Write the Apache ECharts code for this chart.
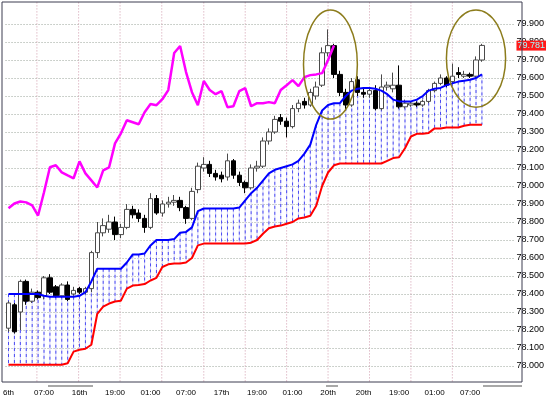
<!DOCTYPE html>
<html>
<head>
<meta charset="utf-8">
<script src="https://cdn.jsdelivr.net/npm/echarts@6/dist/echarts.min.js"></script>
<style>
  html, body { margin: 0; padding: 0; background: #fff; }
  #main { width: 547px; height: 399px; }
</style>
</head>
<body>
<div id="main"></div>
<script>
// x axis labels, one every 6 bars
var tickLabels = ['6th', '07:00', '16th', '19:00', '01:00', '07:00', '17th', '19:00', '01:00', '20th', '20th', '19:00', '01:00', '07:00'];
var barCount = 86;

// candles: [open, close, low, high]
var candles = [
  [78.21, 78.35, 78.19, 78.36], [78.34, 78.19, 78.18, 78.35], [78.30, 78.47, 78.20, 78.48], [78.47, 78.36, 78.34, 78.48],
  [78.36, 78.41, 78.35, 78.43], [78.41, 78.38, 78.37, 78.42], [78.39, 78.49, 78.37, 78.50], [78.49, 78.41, 78.40, 78.51],
  [78.44, 78.39, 78.38, 78.45], [78.39, 78.45, 78.38, 78.46], [78.45, 78.37, 78.36, 78.47], [78.40, 78.42, 78.39, 78.44],
  [78.43, 78.41, 78.40, 78.44], [78.41, 78.43, 78.40, 78.44], [78.43, 78.63, 78.41, 78.64], [78.63, 78.74, 78.60, 78.80],
  [78.74, 78.78, 78.72, 78.82], [78.76, 78.80, 78.74, 78.84], [78.80, 78.73, 78.70, 78.83], [78.73, 78.77, 78.71, 78.79],
  [78.77, 78.87, 78.76, 78.90], [78.87, 78.84, 78.82, 78.89], [78.85, 78.82, 78.80, 78.87], [78.82, 78.77, 78.74, 78.84],
  [78.77, 78.93, 78.76, 78.96], [78.93, 78.85, 78.84, 78.95], [78.85, 78.90, 78.83, 78.92], [78.90, 78.91, 78.88, 78.94],
  [78.91, 78.92, 78.89, 78.95], [78.92, 78.88, 78.86, 78.94], [78.88, 78.82, 78.79, 78.89], [78.82, 78.97, 78.81, 78.99],
  [78.98, 79.11, 78.96, 79.13], [79.10, 79.12, 79.08, 79.16], [79.12, 79.07, 79.05, 79.14], [79.07, 79.05, 79.03, 79.09],
  [79.06, 79.04, 79.02, 79.08], [79.05, 79.14, 79.03, 79.18], [79.14, 79.06, 79.04, 79.15], [79.06, 79.02, 79.00, 79.08],
  [79.02, 78.99, 78.96, 79.03], [78.99, 79.10, 78.98, 79.12], [79.10, 79.11, 79.08, 79.14], [79.11, 79.25, 79.10, 79.27],
  [79.25, 79.30, 79.23, 79.32], [79.30, 79.37, 79.29, 79.39], [79.38, 79.36, 79.34, 79.40], [79.36, 79.33, 79.27, 79.38],
  [79.33, 79.43, 79.32, 79.45], [79.43, 79.46, 79.41, 79.48], [79.47, 79.45, 79.43, 79.49], [79.45, 79.52, 79.44, 79.54],
  [79.50, 79.55, 79.48, 79.58], [79.56, 79.74, 79.55, 79.77], [79.74, 79.78, 79.72, 79.87], [79.78, 79.62, 79.60, 79.79],
  [79.62, 79.52, 79.50, 79.64], [79.52, 79.45, 79.42, 79.54], [79.45, 79.58, 79.44, 79.60], [79.59, 79.52, 79.50, 79.61],
  [79.52, 79.51, 79.49, 79.54], [79.51, 79.53, 79.49, 79.55], [79.53, 79.43, 79.42, 79.56], [79.43, 79.55, 79.42, 79.62],
  [79.55, 79.56, 79.53, 79.58], [79.54, 79.56, 79.52, 79.63], [79.56, 79.44, 79.43, 79.67], [79.44, 79.46, 79.43, 79.48],
  [79.45, 79.46, 79.44, 79.47], [79.46, 79.45, 79.44, 79.47], [79.45, 79.47, 79.44, 79.48], [79.47, 79.53, 79.46, 79.54],
  [79.53, 79.57, 79.52, 79.58], [79.57, 79.60, 79.56, 79.62], [79.60, 79.56, 79.55, 79.61], [79.58, 79.61, 79.57, 79.68],
  [79.63, 79.62, 79.60, 79.66], [79.61, 79.62, 79.60, 79.64], [79.62, 79.61, 79.60, 79.63], [79.61, 79.70, 79.60, 79.72],
  [79.70, 79.781, 79.69, 79.79]
];

// blue line
var blueLine = [
  78.40, 78.40, 78.40, 78.40, 78.40, 78.40, 78.39, 78.385, 78.385, 78.385,
  78.385, 78.385, 78.39, 78.41, 78.47, 78.54, 78.54, 78.54, 78.54, 78.54,
  78.575, 78.62, 78.62, 78.625, 78.67, 78.70, 78.70, 78.70, 78.705, 78.74,
  78.745, 78.77, 78.86, 78.875, 78.875, 78.875, 78.875, 78.875, 78.875, 78.88,
  78.92, 78.96, 78.99, 79.03, 79.07, 79.09, 79.10, 79.11, 79.12, 79.14,
  79.18, 79.23, 79.34, 79.42, 79.45, 79.46, 79.46, 79.50, 79.53, 79.54,
  79.545, 79.545, 79.54, 79.53, 79.51, 79.48, 79.47, 79.47, 79.47, 79.48,
  79.50, 79.53, 79.54, 79.545, 79.56, 79.57, 79.58, 79.585, 79.59, 79.60,
  79.62
];

// red line
var redLine = [
  78.007, 78.007, 78.007, 78.007, 78.007, 78.007, 78.007, 78.007, 78.007, 78.007,
  78.015, 78.08, 78.09, 78.096, 78.118, 78.29, 78.33, 78.347, 78.358, 78.363,
  78.43, 78.447, 78.45, 78.455, 78.475, 78.49, 78.55, 78.565, 78.57, 78.57,
  78.575, 78.60, 78.67, 78.68, 78.68, 78.68, 78.68, 78.68, 78.68, 78.68,
  78.68, 78.685, 78.70, 78.735, 78.765, 78.775, 78.78, 78.79, 78.80, 78.82,
  78.825, 78.835, 78.89, 79.00, 79.075, 79.115, 79.125, 79.125, 79.125, 79.125,
  79.125, 79.125, 79.125, 79.125, 79.14, 79.155, 79.16, 79.21, 79.275, 79.29,
  79.29, 79.295, 79.32, 79.32, 79.325, 79.325, 79.325, 79.335, 79.34, 79.34,
  79.34
];

// magenta lagging line
var lagLine = [
  78.876, 78.903, 78.914, 78.909, 78.892, 78.836, 78.965, 79.104, 79.115, 79.076,
  79.059, 79.043, 79.137, 79.07, 79.031, 78.992, 79.087, 79.104, 79.237, 79.293,
  79.365, 79.354, 79.343, 79.41, 79.455, 79.449, 79.482, 79.533, 79.739, 79.778,
  79.633, 79.521, 79.449, 79.583, 79.533, 79.51, 79.527, 79.438, 79.443, 79.527,
  79.544, 79.443, 79.46, 79.46, 79.466, 79.46, 79.533, 79.56, 79.588, 79.555,
  79.605, 79.616, 79.62, 79.627, 79.70, 79.781
];

var lastPrice = 79.781;

// vertical grid positions (in bar units)
var vGrid = [4.8, 11.85, 18.85, 25.9, 33.0, 40.0, 47.0, 54.0, 61.0, 68.0, 75.0];

// ellipse marks: [center bar, center price, half width (bars), half height (price)]
var circles = [[54.4, 79.675, 4.55, 0.303], [79.0, 79.708, 5.0, 0.27]];

var cats = [];
for (var i = 0; i < barCount; i++) cats.push(String(i));

var cloud = [];
for (var j = 0; j < blueLine.length; j++) cloud.push([j, blueLine[j], redLine[j]]);

var chart = echarts.init(document.getElementById('main'));
var option = {
  backgroundColor: '#ffffff',
  animation: false,
  grid: { left: 2, right: 25, top: 6, height: 378 },
  xAxis: [
    {
      type: 'category',
      data: cats,
      boundaryGap: true,
      axisLine: { show: false },
      axisTick: { show: false },
      splitLine: { show: false },
      axisLabel: {
        interval: function (idx) { return idx % 6 === 0 && idx / 6 < tickLabels.length; },
        formatter: function (v, idx) { return tickLabels[idx / 6] || ''; },
        fontSize: 8,
        fontFamily: 'Liberation Sans Narrow, Arial, sans-serif',
        color: '#000',
        margin: 5
      }
    },
    { type: 'value', min: -0.5, max: barCount - 0.5, show: false }
  ],
  yAxis: {
    type: 'value',
    position: 'right',
    min: 77.9,
    max: 80.0,
    interval: 0.1,
    axisLine: { show: false },
    axisTick: { show: false },
    axisLabel: {
      showMinLabel: false,
      showMaxLabel: false,
      margin: 2,
      fontSize: 9,
      fontFamily: 'Liberation Sans Narrow, Arial, sans-serif',
      color: '#000',
      formatter: function (v) { return v.toFixed(3); }
    },
    splitLine: {
      show: true,
      showMinLine: false,
      showMaxLine: false,
      lineStyle: { type: [1, 2], color: '#9aa49a', width: 1 }
    }
  },
  series: [
    {
      type: 'custom',
      xAxisIndex: 1,
      z: 0,
      silent: true,
      data: vGrid,
      renderItem: function (params, api) {
        var top = api.coord([api.value(0), 80.02]);
        var bot = api.coord([api.value(0), 77.91]);
        return {
          type: 'line',
          shape: { x1: top[0], y1: top[1], x2: bot[0], y2: bot[1] },
          style: { stroke: '#d09aac', lineWidth: 1, lineDash: [1, 2] }
        };
      }
    },
    {
      type: 'custom',
      z: 1,
      silent: true,
      data: cloud,
      encode: { x: 0, y: [1, 2] },
      renderItem: function (params, api) {
        var a = api.coord([api.value(0), api.value(1)]);
        var b = api.coord([api.value(0), api.value(2)]);
        return {
          type: 'group',
          children: [
            { type: 'line', shape: { x1: a[0], y1: a[1], x2: b[0], y2: b[1] },
              style: { stroke: '#d4d4fb', lineWidth: 1 } },
            { type: 'line', shape: { x1: a[0], y1: a[1], x2: b[0], y2: b[1] },
              style: { stroke: '#4c4cf2', lineWidth: 1, lineDash: [3, 3] } }
          ]
        };
      }
    },
    {
      type: 'candlestick',
      z: 2,
      data: candles,
      barWidth: 5,
      itemStyle: {
        color: '#ffffff',
        color0: '#000000',
        borderColor: '#4a4a4a',
        borderColor0: '#000000',
        borderWidth: 1
      },
      markLine: {
        silent: true,
        symbol: ['none', 'none'],
        lineStyle: { color: 'rgba(0,0,0,0)', width: 0 },
        label: {
          position: 'end',
          distance: 2,
          formatter: lastPrice.toFixed(3),
          backgroundColor: '#ff1a1a',
          color: '#9ffcff',
          fontSize: 9,
          fontFamily: 'Liberation Sans Narrow, Arial, sans-serif',
          padding: [1, 1, 0, 1]
        },
        data: [{ yAxis: lastPrice }]
      }
    },
    {
      type: 'line', z: 3, data: redLine, symbol: 'none',
      lineStyle: { color: '#ff0000', width: 2 }
    },
    {
      type: 'line', z: 4, data: blueLine, symbol: 'none',
      lineStyle: { color: '#0000ff', width: 2 }
    },
    {
      type: 'line', z: 5, data: lagLine, symbol: 'none',
      lineStyle: { color: '#ff00ff', width: 2.5 }
    },
    {
      type: 'custom',
      xAxisIndex: 1,
      z: 6,
      silent: true,
      data: circles,
      renderItem: function (params, api) {
        var c = api.coord([api.value(0), api.value(1)]);
        var s = api.size([api.value(2), api.value(3)]);
        return {
          type: 'ellipse',
          shape: { cx: c[0], cy: c[1], rx: s[0], ry: s[1] },
          style: { fill: 'none', stroke: '#8c7c1c', lineWidth: 1.5 }
        };
      }
    }
  ],
  graphic: [
    { type: 'rect', z: 100, shape: { x: 2, y: 2, width: 520, height: 380 },
      style: { fill: 'none', stroke: '#3c3c50', lineWidth: 1 } },
    { type: 'rect', shape: { x: 48, y: 385, width: 45, height: 2 }, style: { fill: '#a8a8a8' } },
    { type: 'rect', shape: { x: 326, y: 385, width: 12, height: 2 }, style: { fill: '#a8a8a8' } },
    { type: 'rect', shape: { x: 483, y: 385, width: 39, height: 2 }, style: { fill: '#a8a8a8' } }
  ]
};
chart.setOption(option);
</script>
</body>
</html>
